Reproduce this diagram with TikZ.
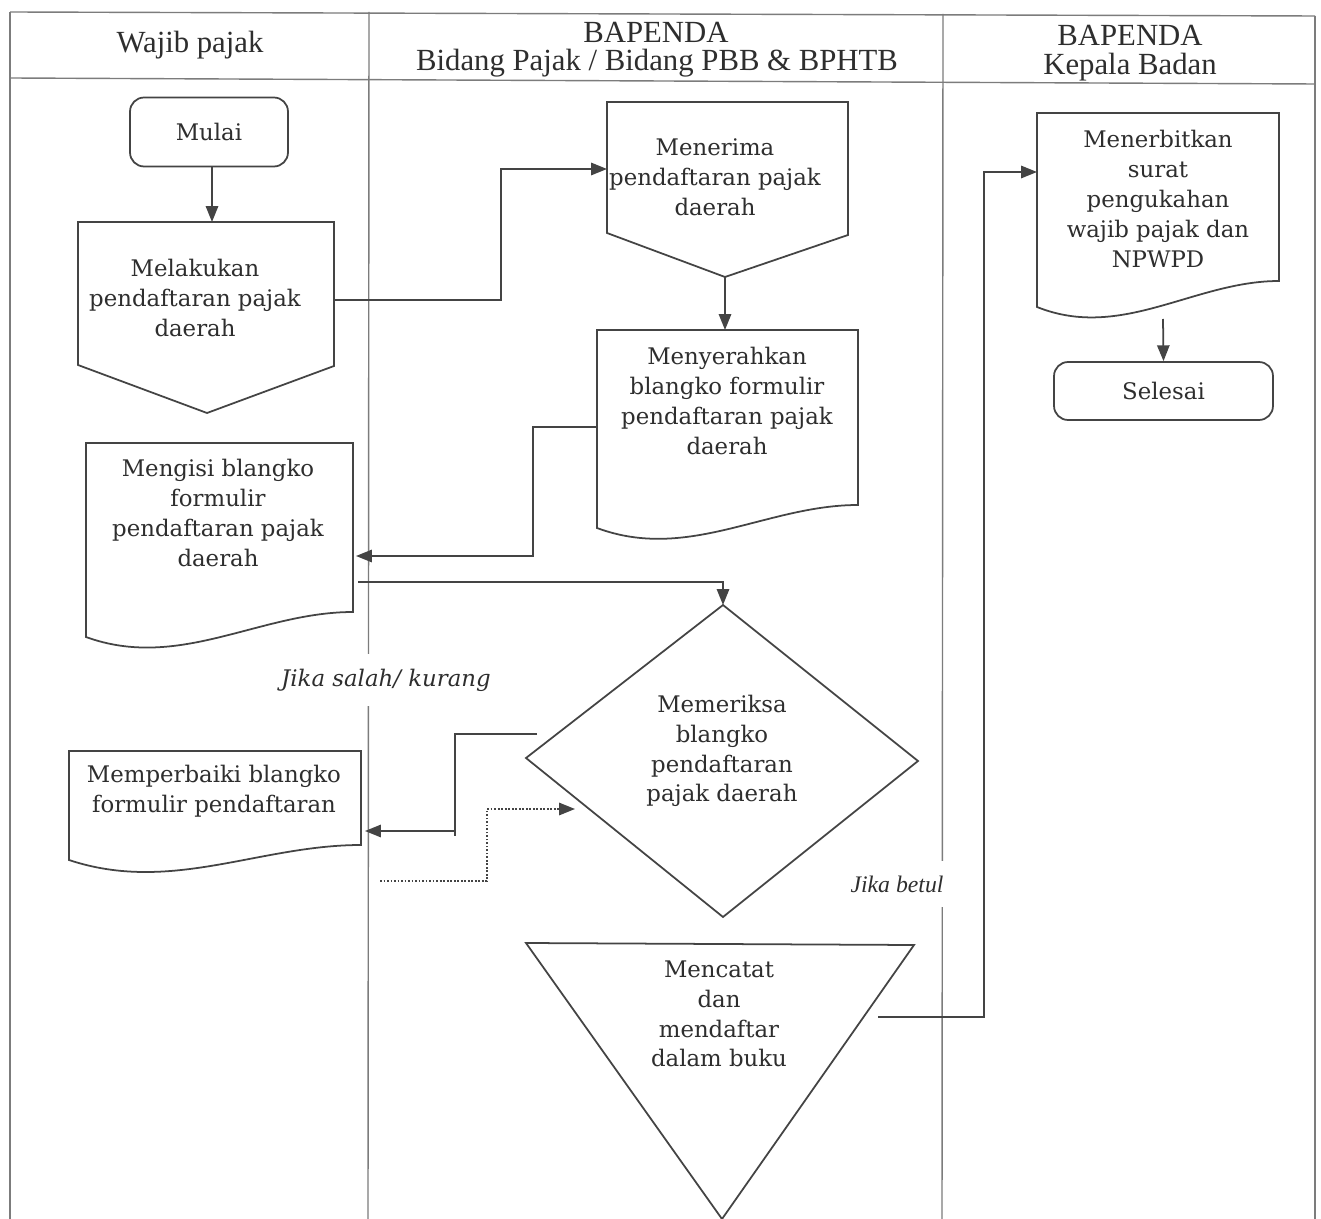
\documentclass[tikz,border=0pt]{standalone}
\usepackage{fontspec}
\setmainfont{DejaVu Serif}
\newfontfamily\hdrfont{Liberation Serif}
\usetikzlibrary{arrows.meta}
\definecolor{ln}{HTML}{444444}
\definecolor{tx}{HTML}{2E2E2E}
\newcommand\docshape[5]{\draw[shp] (#1,#3) -- (#2,#3) -- (#2,#4) .. controls ({#2-0.35*(#2-#1)},{#4}) and ({#1+0.35*(#2-#1)},{#5+34}) .. (#1,#5) -- cycle;}
\begin{document}
\begin{tikzpicture}[x=0.02cm,y=-0.02cm,
  shp/.style={draw=ln, line width=1pt, line join=miter},
  frame/.style={draw=ln!70, line width=0.8pt},
  txt/.style={text=tx, font=\fontsize{13}{17}\selectfont, align=center, inner sep=0pt},
  hdr/.style={text=tx, font=\hdrfont\fontsize{17.5}{18}\selectfont, inner sep=0pt},
  arr/.style={draw=ln, line width=1pt, -{Triangle[length=9pt,width=7pt]}},
  lbl/.style={text=tx, fill=white, inner xsep=2pt, inner ysep=0.3cm}]
\useasboundingbox (0,0) rectangle (1321,1219);
\fill[white] (0,0) rectangle (1321,1219);

% lanes
\draw[frame] (10,12) -- (1315,16);
\draw[frame] (10,78) -- (1315,84);
\draw[frame] (10,12) -- (10,1219);
\draw[frame] (369,12) -- (368,1219);
\draw[frame] (943,14) -- (942,1219);
\draw[frame] (1315,16) -- (1315,1219);

\node[hdr] (h1) at (190,45) {Wajib pajak};
\node[hdr] (h2a) at (656,32) {BAPENDA};
\node[hdr] (h2b) at (657,63) {Bidang Pajak / Bidang PBB \& BPHTB};
\node[hdr] (h3a) at (1130,35) {BAPENDA};
\node[hdr] (h3b) at (1130,67) {Kepala Badan};

% shapes
\node[shp, rounded corners=8pt, minimum width=3.16cm, minimum height=1.38cm, txt] (mulai) at (209,132) {Mulai};
\node[shp, rounded corners=8pt, minimum width=4.38cm, minimum height=1.16cm, txt] (selesai) at (1163.5,391) {Selesai};

\draw[shp] (78,222) -- (334,222) -- (334,366) -- (207,413) -- (78,365) -- cycle;
\node[txt] (mel) at (195,298) {Melakukan\\pendaftaran pajak\\daerah};

\draw[shp] (607,102) -- (848,102) -- (848,235) -- (725,277) -- (607,233) -- cycle;
\node[txt] (ter) at (715,177) {Menerima\\pendaftaran pajak\\daerah};

\docshape{597}{858}{330}{505}{528}
\node[txt] (nyr) at (727,401) {Menyerahkan\\blangko formulir\\pendaftaran pajak\\daerah};

\docshape{86}{353}{443}{612}{637}
\node[txt] (isi) at (218,513) {Mengisi blangko\\formulir\\pendaftaran pajak\\daerah};

\docshape{69}{361}{751}{845}{860}
\node[txt] (bai) at (214,791) {Memperbaiki blangko\\formulir pendaftaran};

\draw[shp] (723,605) -- (918,761) -- (723,917) -- (526,758) -- cycle;
\node[txt] (dia) at (722,751) {Memeriksa\\blangko\\pendaftaran\\pajak daerah};

\draw[shp] (526,943) -- (914,945) -- (722,1219) -- cycle;
\node[txt] (cat) at (719,1014) {Mencatat\\dan\\mendaftar\\dalam buku};

\docshape{1037}{1279}{113}{281}{307}
\node[txt] (bit) at (1158,199) {Menerbitkan\\surat\\pengukahan\\wajib pajak dan\\NPWPD};

% ports
\coordinate (mel-in) at (212,222);
\coordinate (mel-out) at (334,300);
\coordinate (ter-in) at (607,169);
\coordinate (ter-tip) at (725,277);
\coordinate (nyr-in) at (725,330);
\coordinate (nyr-out) at (597,427);
\coordinate (isi-in) at (356,556);
\coordinate (isi-out) at (358,582);
\coordinate (dia-top) at (723,605);
\coordinate (dia-out) at (537,734);
\coordinate (bai-in) at (365,831);
\coordinate (dot-start) at (380,881);
\coordinate (dia-in) at (575,809);
\coordinate (cat-out) at (878,1017);
\coordinate (bit-in) at (1037,172);
\coordinate (bit-out) at (1163,319);

% connectors
\draw[arr] (mulai.south -| mel-in) -- (mel-in);
\draw[arr] (mel-out) -- (501,300) -- (501,169) -- (ter-in);
\draw[arr] (ter-tip) -- (nyr-in);
\draw[arr] (nyr-out) -- (533,427) -- (533,556) -- (isi-in);
\draw[arr] (isi-out) -- (723,582) -- (dia-top);
\draw[arr] (dia-out) -- (455,734) -- (455,831) -- (bai-in);
\draw[draw=ln, line width=0.6pt] (455,831) -- (455,836);
\draw[arr, densely dotted] (dot-start) -- (487,881) -- (487,809) -- (dia-in);
\draw[arr] (cat-out) -- (984,1017) -- (984,172) -- (bit-in);
\draw[arr] (bit-out) -- (selesai.north);

% labels
\node[lbl, font=\fontsize{13}{15}\selectfont\itshape] (l1) at (386,680) {Jika salah/ kurang};
\node[lbl, font=\hdrfont\fontsize{13.5}{15}\selectfont\itshape] (l2) at (897,884) {Jika betul};
\end{tikzpicture}
\end{document}
